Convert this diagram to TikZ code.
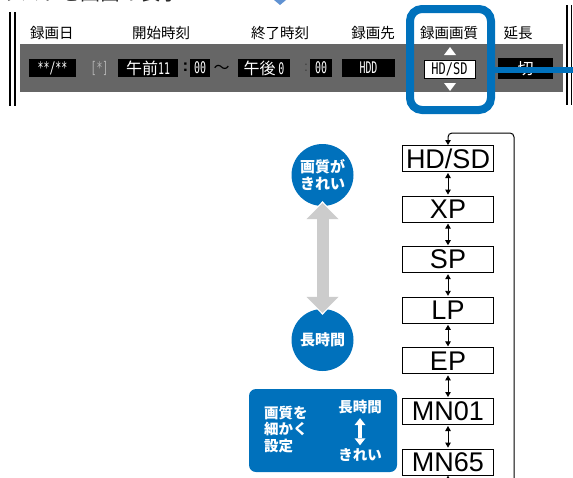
\documentclass[tikz,border=0pt]{standalone}
\usepackage{fontspec}
\usepackage{graphicx}
\setmainfont{Liberation Sans}
\newfontfamily\jp{Noto Sans CJK JP}
\newfontfamily\lcdfont{DejaVu Sans Mono}
\usetikzlibrary{positioning,arrows.meta}
\definecolor{dvdblue}{RGB}{0,113,188}
\definecolor{panelgray}{RGB}{102,102,102}
\definecolor{slidegray}{RGB}{204,204,204}
\definecolor{markblue}{RGB}{96,146,210}
\newcommand{\lcdtxt}[1]{\scalebox{0.62}[1]{\lcdfont #1}}

\begin{document}
\begin{tikzpicture}[x=1pt, y=-1pt, node distance=23.6pt and 10pt,
  head/.style={font=\jp\fontsize{14.5}{14.5}\selectfont, inner sep=0pt},
  seg/.style={fill=black, text=white, inner sep=0pt, minimum height=18pt, font=\jp\fontsize{14}{14}\selectfont\fontsize{16}{16}\selectfont},
  mode/.style={draw=black, line width=1pt, fill=white, minimum width=91pt, minimum height=26pt, inner sep=0pt, font=\fontsize{27}{27}\selectfont},
  hop/.style={{Triangle[length=5pt,width=5.5pt]}-{Triangle[length=5pt,width=5.5pt]}, line width=0.9pt, shorten <=1pt, shorten >=1pt},
  feed/.style={-{Triangle[length=5pt,width=5.5pt]}, line width=1pt},
  badge/.style={circle, fill=dvdblue, text=white, minimum size=62pt, inner sep=0pt, align=center, font=\jp\bfseries\fontsize{15}{17}\selectfont},
  note/.style={text=white, inner sep=0pt, font=\jp\bfseries\fontsize{14.5}{16.5}\selectfont}]
\useasboundingbox (0,0) rectangle (573,477);
\clip (0,0) rectangle (573,477);
\node[anchor=base west, inner sep=0pt, text=black!85, font=\jp\fontsize{20}{20}\selectfont] (title) at (0,0) {リストを画面の表示};
\fill[markblue] (274,0) -- (280,5) -- (286,0) -- cycle;
\draw[line width=2pt] (10,12) -- (10,106); \draw[line width=2pt] (15,12) -- (15,106);
\draw[line width=1.6pt] (567,5) -- (567,105); \draw[line width=1.6pt] (571.5,5) -- (571.5,105);
\fill[panelgray] (20,44) rectangle (563,92);
\node[head] (hdate) at (52,33) {録画日};
\node[head] (hstart) at (161,33) {開始時刻};
\node[head] (hend) at (280,33) {終了時刻};
\node[head] (hdest) at (373,33) {録画先};
\node[head] (hqual) at (449,33) {録画画質};
\node[head] (hext) at (518,33) {延長};
\node[seg, minimum width=47pt] (date) at (52.5,68) {\lcdtxt{**/**}};
\node[inner sep=0pt, text=black!30, font=\fontsize{16}{16}\selectfont] (weekly) at (99.5,68) {\lcdtxt{[*]}};
\node[seg, minimum width=60pt] (start) at (148,68) {午前\lcdtxt{11}};
\node[inner sep=0pt, font=\bfseries\fontsize{17}{17}\selectfont] (scolon) at (185.5,67) {:};
\node[seg, minimum width=20pt] (smin) at (200,68) {\lcdtxt{00}};
\node[inner sep=0pt, font=\jp\fontsize{16}{16}\selectfont] (tilde) at (221.5,69) {〜};
\node[seg, minimum width=52pt] (end) at (264,68) {午後\,\lcdtxt{0}};
\node[inner sep=0pt, text=black!75, font=\fontsize{14}{14}\selectfont] (ecolon) at (306,68) {:};
\node[seg, minimum width=22pt] (emin) at (321,68) {\lcdtxt{00}};
\node[seg, minimum width=53pt] (dest) at (368.5,68) {\lcdtxt{HDD}};
\node[seg, fill=white, text=black, draw=black, line width=0.8pt, minimum width=51pt] (qual) at (449.5,69) {\scalebox{0.75}[1]{\lcdfont HD/SD}};
\fill[white] (444,55) -- (456,55) -- (450,47) -- cycle;
\fill[white] (444,83) -- (456,83) -- (450,91) -- cycle;
\node[seg, minimum width=55pt, minimum height=21pt] (ext) at (525.5,68.5) {切};
\node[draw=dvdblue, line width=8pt, rounded corners=12pt, minimum width=81pt, minimum height=101pt, inner sep=0pt] (pick) at (450.5,59.5) {};
\coordinate (lead) at (576,70);
\draw[dvdblue, line width=6pt] (pick.east |- lead) -- (lead);
\node[badge] (fine) at (322.5,175) {画質が\\きれい};
\node[badge] (long) at (322.5,340) {長時間};
\draw[white, line width=15pt, {Triangle[length=19pt,width=37pt,line width=0pt]}-{Triangle[length=19pt,width=37pt,line width=0pt]}, shorten <=-5pt, shorten >=-6pt] (fine) -- (long);
\draw[slidegray, line width=12pt, {Triangle[length=16pt,width=32pt,line width=0pt]}-{Triangle[length=16pt,width=32pt,line width=0pt]}, shorten <=-3pt, shorten >=-4pt] (fine) -- (long);
\node[mode] (hdsd) at (448,158.5) {HD/SD};
\node[mode, below=of hdsd] (xp) {XP};
\node[mode, below=of xp] (sp) {SP};
\node[mode, below=of sp] (lp) {LP};
\node[mode, below=of lp] (ep) {EP};
\node[mode, below=of ep] (mn01) {MN01};
\node[mode, below=of mn01] (mn65) {MN65};
\draw[hop] (hdsd) -- (xp); \draw[hop] (xp) -- (sp); \draw[hop] (sp) -- (lp);
\draw[hop] (lp) -- (ep); \draw[hop] (ep) -- (mn01); \draw[hop] (mn01) -- (mn65);
\coordinate (wrapup) at (514,490);
\coordinate (wrapin) at (448,490);
\draw[feed, rounded corners=4pt] (wrapup) |- ([yshift=12pt]hdsd.north) -- (hdsd.north);
\draw[feed] (wrapin) -- (mn65);
\node[fill=dvdblue, rounded corners=7pt, minimum width=148pt, minimum height=83pt, inner sep=0pt] (custom) at (323,430.5) {};
\node[note, anchor=west, align=left] (customtxt) at (264,429.5) {画質を\\細かく\\設定};
\node[note] (clong) at (360,407) {長時間};
\node[note] (cfine) at (360,455) {きれい};
\draw[white, line width=3.5pt, {Triangle[length=7pt,width=11pt,line width=0pt]}-{Triangle[length=7pt,width=11pt,line width=0pt]}, shorten <=4pt, shorten >=3pt] (clong) -- (cfine);
\end{tikzpicture}
\end{document}
